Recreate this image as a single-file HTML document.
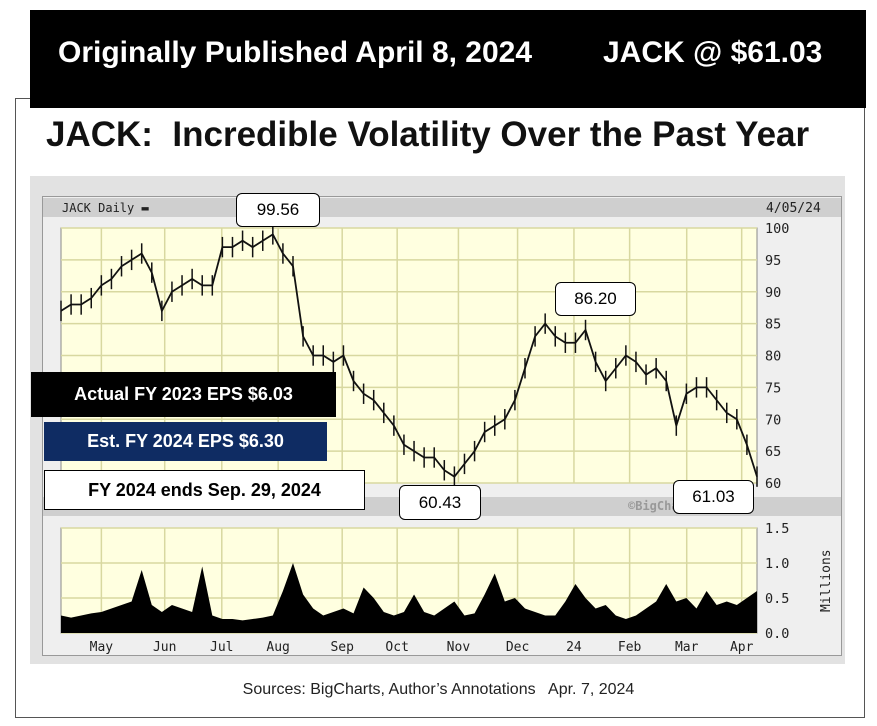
<!DOCTYPE html>
<html><head><meta charset="utf-8"><style>
body{margin:0;width:877px;height:726px;background:#fff;position:relative;overflow:hidden;font-family:"Liberation Sans",sans-serif}
.a{position:absolute}
.box{position:absolute;background:#fff;border:1.5px solid #000;border-radius:6px;font-size:17px;text-align:center;box-sizing:border-box}
.mono{font-family:"DejaVu Sans Mono","Liberation Mono",monospace;font-size:12px;color:#222}
</style></head><body>
<div class="a" style="left:15px;top:98px;width:850px;height:620px;border:1.5px solid #555;box-sizing:border-box"></div>
<div class="a" style="left:30px;top:10px;width:836px;height:98px;background:#000;color:#fff;font-weight:bold;font-size:30px">
<span class="a" style="left:28px;top:26px">Originally Published April 8, 2024</span>
<span class="a" style="left:573px;top:26px">JACK @ $61.03</span></div>
<div class="a" style="left:46px;top:115px;font-size:35px;font-weight:bold;color:#111">JACK:&nbsp; Incredible Volatility Over the Past Year</div>
<div class="a" style="left:30px;top:176px;width:815px;height:488px;background:#e2e2e2"></div>
<div class="a" style="left:42px;top:196px;width:800px;height:460px;background:#efefef;border:1px solid #999;box-sizing:border-box"></div>
<div class="a" style="left:43px;top:198px;width:798px;height:19px;background:#cfcfcf"></div>
<div class="a" style="left:43px;top:497px;width:798px;height:19px;background:#cfcfcf"></div>
<div class="a mono" style="left:62px;top:201px">JACK Daily ▬</div>
<div class="a mono" style="left:766px;top:201px;font-size:13px">4/05/24</div>
<div class="a mono" style="left:628px;top:499px;color:#999;font-weight:bold">©BigCharts.com</div>
<svg class="a" style="left:0;top:0" width="877" height="726" id="svg"></svg>
<div class="a" style="left:31px;top:372px;width:305px;height:45px;background:#000;color:#fff;font-weight:bold;font-size:18px;line-height:45px;text-align:center">Actual FY 2023 EPS $6.03</div>
<div class="a" style="left:44px;top:422px;width:283px;height:39px;background:#0f2c63;color:#fff;font-weight:bold;font-size:18px;line-height:39px;text-align:center">Est. FY 2024 EPS $6.30</div>
<div class="a" style="left:44px;top:470px;width:321px;height:40px;background:#fff;border:1.5px solid #000;box-sizing:border-box;font-weight:bold;font-size:18px;line-height:38px;text-align:center">FY 2024 ends Sep. 29, 2024</div>
<div class="box" style="left:236px;top:193px;width:84px;height:34px;line-height:32px">99.56</div>
<div class="box" style="left:555px;top:282px;width:81px;height:34px;line-height:32px">86.20</div>
<div class="box" style="left:399px;top:485px;width:82px;height:35px;line-height:33px">60.43</div>
<div class="box" style="left:673px;top:480px;width:81px;height:34px;line-height:32px">61.03</div>
<div class="a" style="left:0;width:877px;top:681px;text-align:center;font-size:16px;color:#222">Sources: BigCharts, Author’s Annotations&nbsp;&nbsp; Apr. 7, 2024</div>
<script>
const priceTicks=[60,65,70,75,80,85,90,95,100];
const volTicks=["0.0","0.5","1.0","1.5"];
const months=["May","Jun","Jul","Aug","Sep","Oct","Nov","Dec","24","Feb","Mar","Apr"];
const monthPos=[0.058,0.149,0.231,0.312,0.404,0.483,0.571,0.656,0.737,0.817,0.899,0.978];
const closes=[87,88,88,89,91,92,94,95,96,93,87,90,91,92,91,91,97,97,98,97,98,99,96,94,83,80,80,79,80,76,74,73,71,69,66,65,64,64,62,61,63,65,68,69,70,73,78,83,85,83,82,82,84,79,76,78,80,79,77,78,76,69,74,75,75,73,71,70,66,61];
const volumes=[.25,.22,.25,.28,.3,.35,.4,.45,.9,.4,.3,.4,.35,.3,.95,.25,.2,.2,.18,.2,.22,.25,.6,1.0,.55,.35,.25,.3,.35,.28,.65,.5,.3,.25,.3,.55,.3,.25,.35,.45,.25,.28,.55,.85,.45,.5,.35,.3,.25,.25,.45,.7,.5,.35,.4,.25,.2,.25,.35,.45,.7,.45,.5,.35,.6,.4,.45,.4,.5,.6];
const svg=document.getElementById('svg');const NS='http://www.w3.org/2000/svg';
const X0=61,X1=757,PY0=228,PY1=483,VY0=528,VY1=633;
const px=i=>X0+i*(X1-X0)/(closes.length-1);
const py=v=>PY1-(v-60)/40*(PY1-PY0);
const vx=i=>X0+i*(X1-X0)/(volumes.length-1);
const vyy=v=>VY1-v/1.5*(VY1-VY0);
function mk(t,a,p){const e=document.createElementNS(NS,t);for(const k in a)e.setAttribute(k,a[k]);(p||svg).appendChild(e);return e;}
let r=mk('rect',{x:X0,y:PY0,width:X1-X0,height:PY1-PY0,fill:'#ffffe0',stroke:'#888'});


r=mk('rect',{x:X0,y:VY0,width:X1-X0,height:VY1-VY0,fill:'#ffffe0',stroke:'#888'});


priceTicks.forEach(t=>{const y=py(t);
 const l=mk('line',{x1:X0,x2:X1,y1:y,y2:y,stroke:'#d8d8a0','stroke-width':1.5});
 
 
 const tx=mk('text',{x:765,y:y+5,'font-size':13.5,'font-family':'DejaVu Sans Mono,monospace',fill:'#222'});tx.textContent=t;
 
 });
volTicks.forEach(t=>{const y=vyy(+t);
 const l=mk('line',{x1:X0,x2:X1,y1:y,y2:y,stroke:'#d8d8a0','stroke-width':1.5});
 
 
 const tx=mk('text',{x:765,y:y+5,'font-size':13.5,'font-family':'DejaVu Sans Mono,monospace',fill:'#222'});tx.textContent=t;
 
 });
months.forEach((m,i)=>{const x=X0+monthPos[i]*(X1-X0);
 [[PY0,PY1],[VY0,VY1]].forEach(([a,b])=>{const l=mk('line',{x1:x,x2:x,y1:a,y2:b,stroke:'#d8d8a0','stroke-width':1.5});
 
 });
 const tx=mk('text',{x:x,y:651,'font-size':13,'text-anchor':'middle','font-family':'DejaVu Sans Mono,monospace',fill:'#222'});tx.textContent=m;
 
 });
const mt=mk('text',{x:0,y:0,'font-size':13,'font-family':'DejaVu Sans Mono,monospace',fill:'#222',transform:'translate(830,612) rotate(-90)'});mt.textContent='Millions';


let d='';closes.forEach((c,i)=>{d+=(i?'L':'M')+px(i)+','+py(c);});
const pl=mk('path',{d:d,fill:'none',stroke:'#111','stroke-width':1.8});


closes.forEach((c,i)=>{const b=mk('line',{x1:px(i),x2:px(i),y1:py(c+1.6),y2:py(c-1.6),stroke:'#111','stroke-width':1.5});
 
 });
let vd='M'+X0+','+VY1;volumes.forEach((v,i)=>{vd+='L'+vx(i)+','+vyy(v);});vd+='L'+X1+','+VY1+'Z';
const va=mk('path',{d:vd,fill:'#000'});


</script>
</body></html>
